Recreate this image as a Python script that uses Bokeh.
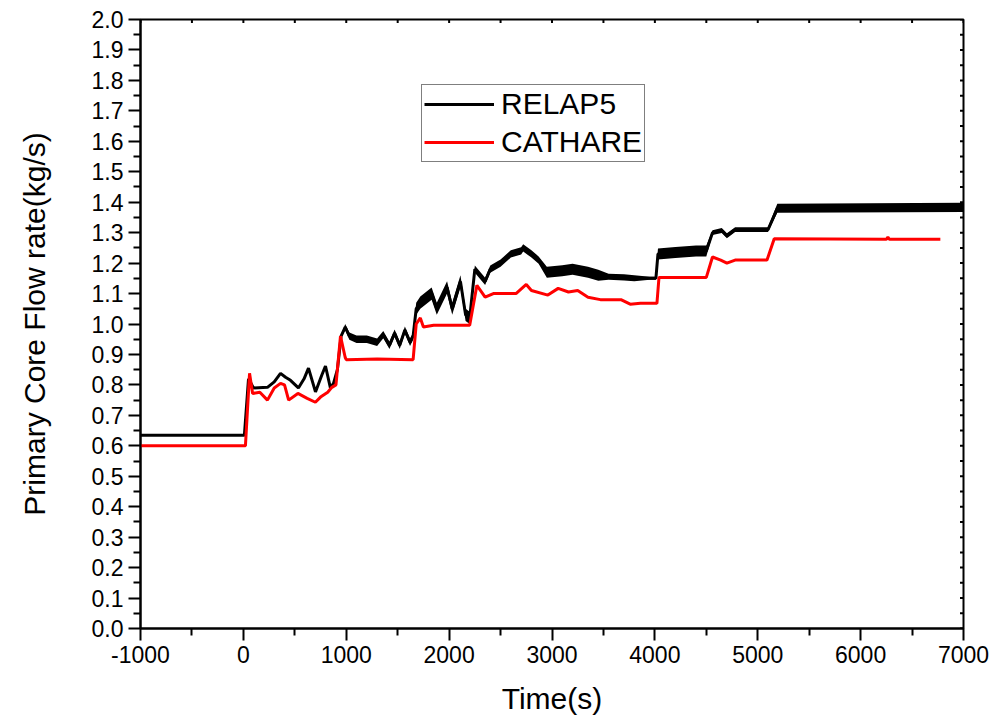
import math
from bokeh.plotting import figure
from bokeh.models import (Range1d, FixedTicker, PrintfTickFormatter,
                          Legend, LegendItem)
from bokeh.embed import file_html
from bokeh.resources import INLINE

# ---- data ----
relap_time = [-1000, 0, 10, 50, 98, 234, 300, 361, 410, 458, 535, 590, 633, 701, 760,
              798, 846, 876, 914, 950, 990, 1030, 1100, 1200, 1300, 1360, 1420, 1470,
              1520, 1570, 1620, 1650, 1680, 1720, 1830, 1880, 1980, 2030, 2110, 2160,
              2200, 2250, 2350, 2400, 2500, 2600, 2700, 2720, 2800, 2870, 2950, 3100,
              3200, 3350, 3450, 3550, 3700, 3800, 3950, 4010, 4030, 4200, 4400, 4500,
              4560, 4650, 4700, 4780, 5100, 5190, 7000]
relap_flow = [0.635, 0.635, 0.635, 0.82, 0.79, 0.792, 0.81, 0.838, 0.825, 0.815, 0.79,
              0.82, 0.855, 0.777, 0.83, 0.862, 0.79, 0.805, 0.85, 0.96, 0.99, 0.96, 0.95,
              0.95, 0.94, 0.965, 0.93, 0.97, 0.93, 0.98, 0.94, 0.96, 1.05, 1.07, 1.10,
              1.05, 1.12, 1.05, 1.14, 1.03, 1.02, 1.18, 1.14, 1.18, 1.20, 1.23, 1.24,
              1.25, 1.23, 1.21, 1.17, 1.175, 1.18, 1.17, 1.16, 1.155, 1.153, 1.15, 1.15,
              1.15, 1.23, 1.235, 1.24, 1.24, 1.30, 1.307, 1.29, 1.31, 1.31, 1.38, 1.383]
# half thickness of the oscillation band seen around the RELAP5 curve
relap_noise = [0, 0, 0, 0, 0, 0, 0, 0, 0, 0, 0, 0, 0, 0, 0, 0, 0, 0, 0, 0.005, 0.01,
               0.012, 0.012, 0.012, 0.012, 0.012, 0.012, 0.012, 0.012, 0.012, 0.012,
               0.012, 0.02, 0.02, 0.02, 0.02, 0.02, 0.02, 0.02, 0.02, 0.02, 0.012, 0.012,
               0.012, 0.012, 0.012, 0.012, 0.012, 0.012, 0.012, 0.018, 0.018, 0.018,
               0.018, 0.018, 0.01, 0.01, 0.01, 0.005, 0.005, 0.018, 0.018, 0.018, 0.018,
               0.008, 0.008, 0.008, 0.008, 0.008, 0.015, 0.015]

cathare_time = [-1000, 20, 60, 90, 160, 234, 300, 361, 400, 440, 530, 620, 700, 750,
                820, 860, 900, 944, 990, 1000, 1300, 1650, 1680, 1720, 1750, 1850, 2000,
                2200, 2270, 2350, 2430, 2650, 2750, 2800, 2960, 3060, 3160, 3250, 3350,
                3470, 3670, 3760, 3860, 4020, 4040, 4500, 4560, 4640, 4700, 4780, 5090,
                5160, 6250, 6265, 6280, 6775]
cathare_flow = [0.60, 0.60, 0.838, 0.772, 0.776, 0.75, 0.79, 0.805, 0.80, 0.75, 0.772,
                0.756, 0.743, 0.76, 0.776, 0.792, 0.80, 0.96, 0.89, 0.883, 0.885, 0.883,
                1.0, 1.02, 0.99, 0.996, 0.996, 0.996, 1.127, 1.088, 1.10, 1.10, 1.13,
                1.11, 1.095, 1.117, 1.105, 1.11, 1.088, 1.08, 1.08, 1.065, 1.068, 1.068,
                1.153, 1.153, 1.22, 1.21, 1.20, 1.21, 1.21, 1.28, 1.278, 1.285, 1.278,
                1.278]

x_major_ticks = [-1000, 0, 1000, 2000, 3000, 4000, 5000, 6000, 7000]
x_minor_ticks = [-500, 500, 1500, 2500, 3500, 4500, 5500, 6500]
y_major_ticks = [0.0, 0.1, 0.2, 0.3, 0.4, 0.5, 0.6, 0.7, 0.8, 0.9, 1.0, 1.1, 1.2, 1.3,
                 1.4, 1.5, 1.6, 1.7, 1.8, 1.9, 2.0]
y_minor_ticks = [0.05, 0.15, 0.25, 0.35, 0.45, 0.55, 0.65, 0.75, 0.85, 0.95, 1.05, 1.15,
                 1.25, 1.35, 1.45, 1.55, 1.65, 1.75, 1.85, 1.95]

X_MIN, X_MAX = -1000, 7000
Y_MIN, Y_MAX = 0.0, 2.0
FONT = "Liberation Sans"

p = figure(width=996, height=723, output_backend="svg", toolbar_location=None,
           tools="", x_range=Range1d(X_MIN, X_MAX), y_range=Range1d(Y_MIN, Y_MAX),
           min_border_left=140, min_border_right=33, min_border_top=19,
           min_border_bottom=95)
p.xgrid.visible = False
p.ygrid.visible = False
p.outline_line_color = "black"
p.outline_line_width = 2
p.background_fill_color = "white"
p.border_fill_color = "white"

relap_low = [f - n for f, n in zip(relap_flow, relap_noise)]
relap_high = [f + n for f, n in zip(relap_flow, relap_noise)]

p.varea(x=relap_time, y1=relap_low, y2=relap_high, fill_color="black", fill_alpha=1.0)
r1 = p.line(relap_time, relap_flow, line_color="black", line_width=3)
r2 = p.line(cathare_time, cathare_flow, line_color="#ff0000", line_width=3)

# small inward ticks on the top and right frame edges (half of each dash is clipped)
top_ticks = sorted(x_major_ticks + x_minor_ticks)
right_ticks = sorted(y_major_ticks + y_minor_ticks)
p.scatter(top_ticks, [Y_MAX] * len(top_ticks), marker="dash", size=7,
          angle=math.pi / 2, line_color="black", line_width=2)
p.scatter([X_MAX] * len(right_ticks), right_ticks, marker="dash", size=7,
          line_color="black", line_width=2)

# bottom axis
xa = p.xaxis[0]
xa.ticker = FixedTicker(ticks=x_major_ticks, minor_ticks=x_minor_ticks)
xa.formatter = PrintfTickFormatter(format="%d")
xa.axis_label = "Time(s)"
# left axis
ya = p.yaxis[0]
ya.ticker = FixedTicker(ticks=y_major_ticks, minor_ticks=y_minor_ticks)
ya.formatter = PrintfTickFormatter(format="%.1f")
ya.axis_label = "Primary Core Flow rate(kg/s)"

for ax in (xa, ya):
    ax.axis_line_width = 2
    ax.major_tick_line_width = 2
    ax.minor_tick_line_width = 2
    ax.major_tick_out = 12
    ax.major_tick_in = 0
    ax.minor_tick_out = 7
    ax.minor_tick_in = 0
    ax.major_label_text_font = FONT
    ax.major_label_text_font_size = "23px"
    ax.major_label_text_color = "black"
    ax.axis_label_text_font = FONT
    ax.axis_label_text_font_size = "30px"
    ax.axis_label_text_font_style = "normal"
    ax.axis_label_text_color = "black"
    ax.major_label_standoff = 5
xa.axis_label_standoff = 16
ya.axis_label_standoff = 38

legend = Legend(items=[LegendItem(label="RELAP5", renderers=[r1]),
                       LegendItem(label="CATHARE", renderers=[r2])],
                location=(281, 466))
legend.label_text_font = FONT
legend.label_text_font_size = "30px"
legend.label_text_color = "black"
legend.glyph_width = 70
legend.glyph_height = 32
legend.label_height = 32
legend.label_standoff = 7
legend.spacing = 4
legend.padding = 2
legend.margin = 0
legend.border_line_color = "black"
legend.border_line_width = 1
legend.background_fill_alpha = 1.0
p.add_layout(legend)

open("out.html", "w").write(file_html(p, INLINE))
